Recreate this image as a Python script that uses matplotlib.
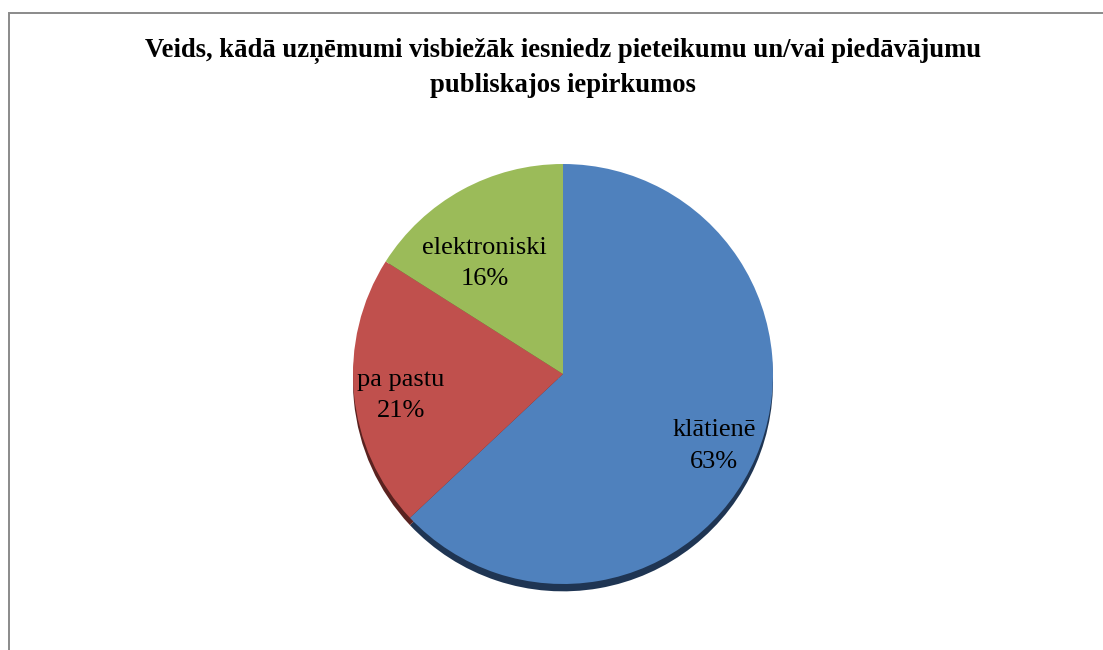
import matplotlib
matplotlib.use("Agg")
import matplotlib.pyplot as plt
from matplotlib.patches import Rectangle
import numpy as np

title = "Veids, kādā uzņēmumi visbiežāk iesniedz pieteikumu un/vai piedāvājumu\npubliskajos iepirkumos"
categories = ["klātienē", "pa pastu", "elektroniski"]
values = [63, 21, 16]
colors = ["#4F81BD", "#C0504D", "#9BBB59"]
shadow_colors = ["#1F3553", "#5A2220", "#4A5A2A"]

W, H = 1103, 650
fig = plt.figure(figsize=(W / 100, H / 100), dpi=100)
fig.patch.set_facecolor("white")

# outer frame
fig.add_artist(Rectangle((9 / W, -0.1), 1.2, (H - 13) / H + 0.1, transform=fig.transFigure,
                         fill=False, edgecolor="#8A8A8A", linewidth=1.4))

fig.text(563 / W, 1 - 68 / H, title, ha="center", va="center", fontsize=19.2,
         fontweight="bold", family="Liberation Serif", linespacing=1.43)

cx, cy, r = 563, 374, 210
ax = fig.add_axes([(cx - r) / W, (H - cy - r) / H, 2 * r / W, 2 * r / H])
ax.set_aspect("equal")
ax.axis("off")

# shadow
ax.pie(values, colors=shadow_colors, startangle=90, counterclock=False,
       center=(0, -0.035), radius=1.0, wedgeprops=dict(linewidth=0))

labels = [f"{c}\n{v}%" for c, v in zip(categories, values)]
wedges, texts = ax.pie(values, colors=colors, startangle=90, counterclock=False,
                       labels=labels, labeldistance=0.78,
                       textprops=dict(fontsize=19, family="Liberation Serif", color="black",
                                      linespacing=1.54),
                       wedgeprops=dict(linewidth=0))
# label placement (distance from centre, angle in degrees) as in the reference
placement = [(0.797, -25.5), (0.778, -172.3), (0.645, 125.5)]
for t, (d, a) in zip(texts, placement):
    t.set_ha("center")
    t.set_va("center")
    t.set_position((d * np.cos(np.deg2rad(a)), d * np.sin(np.deg2rad(a))))

ax.set_xlim(-1, 1)
ax.set_ylim(-1, 1)

fig.savefig("out.png", dpi=100)
